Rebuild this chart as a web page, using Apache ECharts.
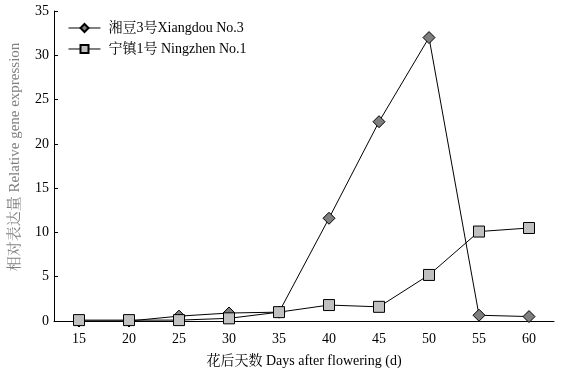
<!DOCTYPE html>
<html><head><meta charset="utf-8">
<script src="https://cdn.jsdelivr.net/npm/echarts@6/dist/echarts.min.js"></script>
<style>html,body{margin:0;padding:0;background:#fff}#c{width:562px;height:374px}</style>
</head><body><div id="c"></div>
<script>
var days = ['15','20','25','30','35','40','45','50','55','60'];
var xiangdou = [0, 0, 0.55, 0.9, 1.0, 11.6, 22.5, 32.0, 0.65, 0.5];
var ningzhen = [0.1, 0.1, 0.1, 0.3, 1.0, 1.8, 1.6, 5.2, 10.1, 10.5];
var yTicks = [0, 5, 10, 15, 20, 25, 30, 35];
var fontSerif = '"Liberation Serif","Noto Serif CJK SC","Noto Sans CJK SC",serif';
var chart = echarts.init(document.getElementById('c'));
chart.setOption({
  animation: false,
  backgroundColor: '#fff',
  grid: {left: 54, right: 8, top: 11, bottom: 53, containLabel: false, outerBoundsMode: 'none'},
  legend: {
    orient: 'vertical', left: 63, top: 16, itemGap: 7, itemWidth: 32, itemHeight: 10,
    lineStyle: {width: 1},
    textStyle: {fontFamily: fontSerif, fontSize: 14, color: '#000', padding: [0, 0, 0, 3]},
    data: ['湘豆3号Xiangdou No.3', '宁镇1号 Ningzhen No.1']
  },
  xAxis: {
    type: 'category', data: days, boundaryGap: true,
    name: '花后天数 Days after flowering (d)', nameLocation: 'middle', nameGap: 33,
    nameTextStyle: {fontFamily: fontSerif, fontSize: 14, color: '#000'},
    axisLine: {lineStyle: {color: '#000', width: 1}},
    axisTick: {inside: true, length: 4, lineStyle: {color: '#000'}},
    axisLabel: {fontFamily: fontSerif, fontSize: 14, color: '#000', margin: 11},
    splitLine: {show: false}
  },
  yAxis: {
    type: 'value', min: yTicks[0], max: yTicks[yTicks.length-1], interval: 5,
    name: '相对表达量 Relative gene expression', nameLocation: 'middle', nameGap: 31,
    nameTextStyle: {fontFamily: fontSerif, fontSize: 15, color: '#808080', padding: [0, 0, 0, 18]},
    axisLine: {show: true, lineStyle: {color: '#000', width: 1}},
    axisTick: {show: true, inside: true, length: 4, lineStyle: {color: '#000'}},
    axisLabel: {fontFamily: fontSerif, fontSize: 14, color: '#000', margin: 5},
    splitLine: {show: false}
  },
  series: [
    {name: '湘豆3号Xiangdou No.3', type: 'line', data: xiangdou, symbol: 'diamond', symbolSize: 12,
     lineStyle: {color: '#000', width: 1}, itemStyle: {color: '#7f7f7f', borderColor: '#000', borderWidth: 1}},
    {name: '宁镇1号 Ningzhen No.1', type: 'line', data: ningzhen, symbol: 'rect', symbolSize: 11,
     lineStyle: {color: '#000', width: 1}, itemStyle: {color: '#c0c0c0', borderColor: '#000', borderWidth: 1}}
  ]
});
</script></body></html>
